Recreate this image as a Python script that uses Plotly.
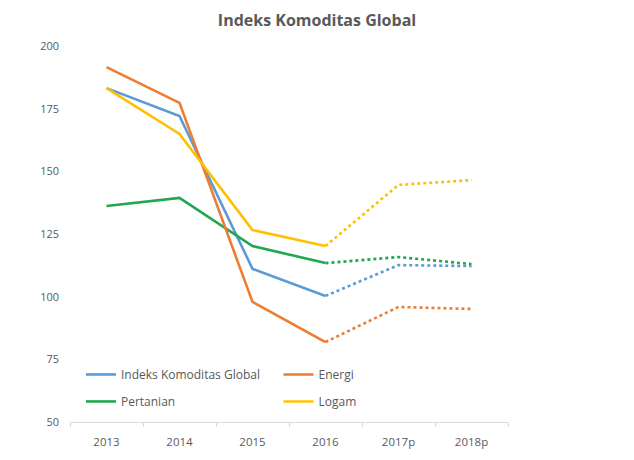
import plotly.graph_objects as go

years = ["2013", "2014", "2015", "2016", "2017p", "2018p"]
global_idx = [183.2, 172.1, 111.1, 100.3, 112.6, 112.2]
energi = [191.6, 177.3, 97.9, 81.9, 95.9, 95.1]
pertanian = [136.2, 139.4, 120.2, 113.4, 115.8, 113.0]
logam = [183.2, 164.9, 126.6, 120.2, 144.6, 146.5]
y_ticks = [50, 75, 100, 125, 150, 175, 200]

series = [
    ("Indeks Komoditas Global", global_idx, "#5B9BD5", "legend"),
    ("Pertanian", pertanian, "#1FA84F", "legend"),
    ("Energi", energi, "#ED7D31", "legend2"),
    ("Logam", logam, "#FFC000", "legend2"),
]

fig = go.Figure()
n_actual = 4  # 2013..2016 solid
for name, vals, color, lg in series:
    fig.add_trace(go.Scatter(
        x=years[:n_actual], y=vals[:n_actual], mode="lines", name=name,
        line=dict(color=color, width=2.6), legend=lg, legendgroup=name,
    ))
    fig.add_trace(go.Scatter(
        x=years[n_actual - 1:], y=vals[n_actual - 1:], mode="lines", name=name,
        line=dict(color=color, width=2.6, dash="dot"), showlegend=False,
        legendgroup=name,
    ))

legend_common = dict(
    orientation="v", yanchor="top", xanchor="left",
    bgcolor="rgba(0,0,0,0)", font=dict(size=12, color="#595959", family="Open Sans"),
    tracegroupgap=8, itemwidth=30,
)

fig.update_layout(
    width=634, height=460,
    margin=dict(l=70, r=126, t=46, b=38),
    paper_bgcolor="white", plot_bgcolor="white",
    title=dict(text="<b>Indeks Komoditas Global</b>", x=0.5, xanchor="center",
               y=0.955, yanchor="middle",
               font=dict(size=16, color="#595959", family="Open Sans")),
    font=dict(family="Open Sans", color="#595959", size=11),
    legend=dict(x=0.025, y=0.165, **legend_common),
    legend2=dict(x=0.476, y=0.165, **legend_common),
    xaxis=dict(type="category", categoryorder="array", categoryarray=years,
               showgrid=False, showline=True, linecolor="#D9D9D9", linewidth=1,
               ticks="outside", tickson="boundaries", ticklen=4, tickcolor="#D9D9D9",
               ticklabelstandoff=9,
               tickfont=dict(size=11.5, color="#595959"), range=[-0.5, 5.5]),
    yaxis=dict(range=[50, 200], tickvals=y_ticks, showgrid=False, showline=False,
               zeroline=False, ticks="", ticklabelstandoff=10,
               tickfont=dict(size=11, color="#595959")),
)

fig.write_html("out.html")
